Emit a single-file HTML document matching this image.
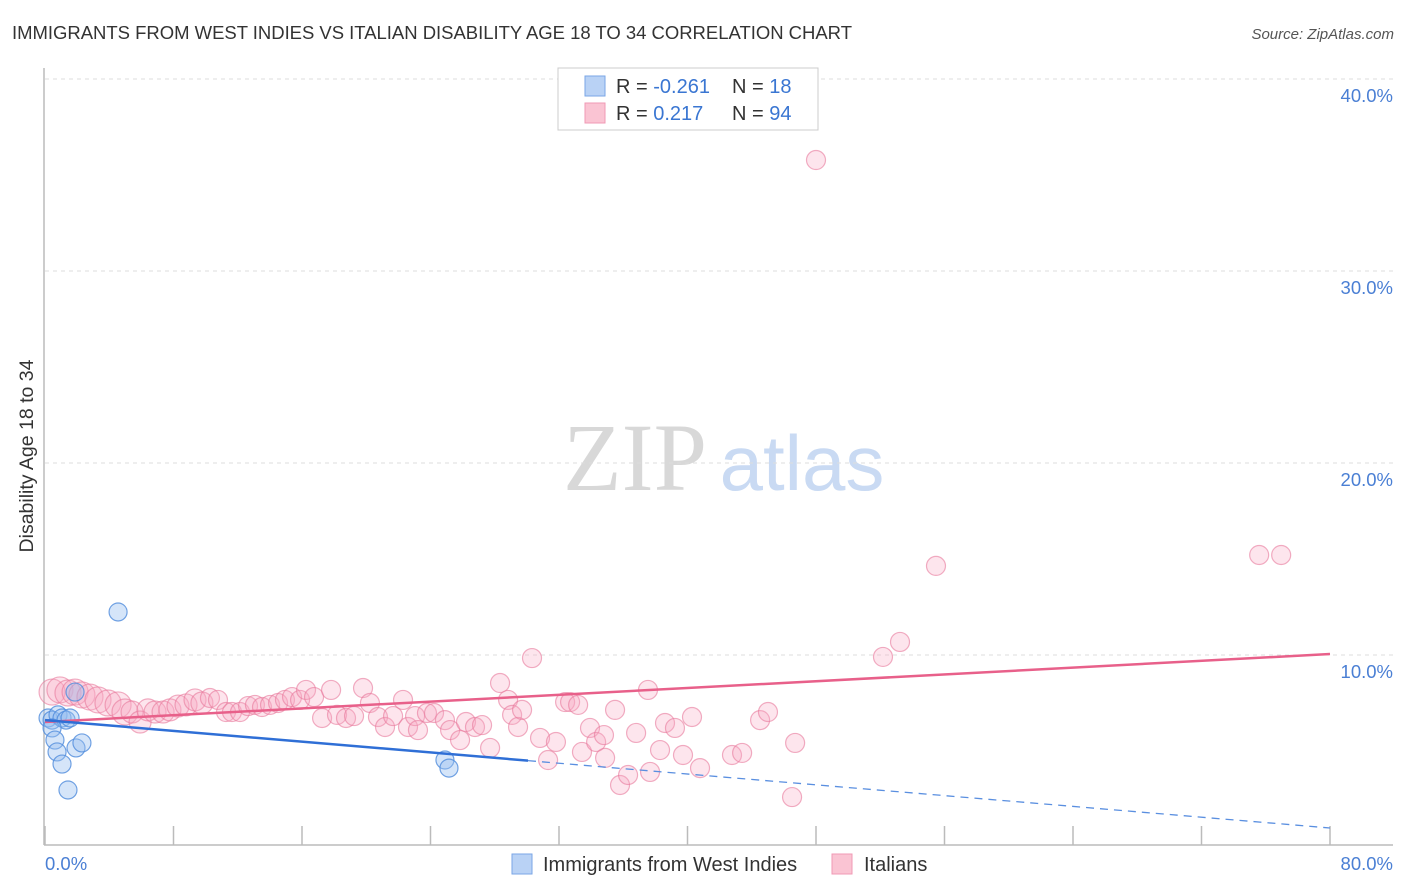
<!DOCTYPE html>
<html><head><meta charset="utf-8"><style>
body{margin:0;background:#fff;font-family:"Liberation Sans",sans-serif;}
svg{display:block}
</style></head><body>
<svg id="chart" width="1406" height="892">
<text x="12" y="39" font-size="18.5" fill="#333" textLength="840">IMMIGRANTS FROM WEST INDIES VS ITALIAN DISABILITY AGE 18 TO 34 CORRELATION CHART</text>
<text x="1394" y="39" font-size="15" fill="#555" font-style="italic" text-anchor="end">Source: ZipAtlas.com</text>
<g>
<text x="635" y="490" font-size="96" font-family="Liberation Serif,serif" fill="#d8d8d8" text-anchor="middle">ZIP</text>
<text x="802" y="490" font-size="78" fill="#c9daf3" text-anchor="middle">atlas</text>
</g>
<g id="grid"></g>
<g id="axes"></g>
<g id="marks"></g>
<text transform="translate(33,456) rotate(-90)" font-size="19.5" fill="#333" text-anchor="middle">Disability Age 18 to 34</text>
<g>
<rect x="558" y="68" width="260" height="62" fill="#fff" stroke="#ccc"/>
<rect x="585" y="76" width="20" height="20" fill="#b9d2f5" stroke="#7aa6e6"/>
<rect x="585" y="103" width="20" height="20" fill="#fac4d3" stroke="#f09ab5"/>
<text x="616" y="93" font-size="20" fill="#333">R = <tspan fill="#3a76d2">-0.261</tspan></text>
<text x="732" y="93" font-size="20" fill="#333">N = <tspan fill="#3a76d2"> 18</tspan></text>
<text x="616" y="120" font-size="20" fill="#333">R = <tspan fill="#3a76d2"> 0.217</tspan></text>
<text x="732" y="120" font-size="20" fill="#333">N = <tspan fill="#3a76d2">94</tspan></text>
</g>
<g>
<rect x="512" y="854" width="20" height="20" fill="#b9d2f5" stroke="#7aa6e6"/>
<text x="543" y="871" font-size="20" fill="#333">Immigrants from West Indies</text>
<rect x="832" y="854" width="20" height="20" fill="#fac4d3" stroke="#f09ab5"/>
<text x="864" y="871" font-size="20" fill="#333">Italians</text>
</g>
</svg>
<script>
const yTicks=[10,20,30,40];
const yTickLabels=["10.0%","20.0%","30.0%","40.0%"];
const xTickVals=[0,8,16,24,32,40,48,56,64,72,80];
const pinkX=[0.44,0.93,1.43,1.87,2.30,2.80,3.30,3.92,4.55,4.98,5.42,5.92,6.41,6.85,7.35,7.78,8.28,8.78,9.34,9.77,10.27,10.77,11.27,11.64,12.14,12.64,13.07,13.51,14.01,14.51,14.94,15.38,15.88,16.25,16.75,17.25,17.81,18.18,18.74,19.24,19.80,20.23,20.73,21.17,21.67,22.29,22.60,23.04,23.22,23.78,24.22,24.90,25.22,25.84,26.21,26.77,27.21,27.71,28.33,28.83,29.08,29.45,29.70,30.32,30.82,31.32,31.81,32.38,32.69,33.19,33.43,33.93,34.31,34.80,34.87,35.49,35.80,36.30,36.80,37.54,37.67,38.29,38.60,39.22,39.72,40.28,40.78,42.77,43.40,44.52,45.01,46.70,46.51,48.00,52.17,53.23,55.47,75.59,76.96];
const pinkY=[8.07,8.18,8.02,8.07,7.92,7.81,7.66,7.50,7.40,7.03,7.03,6.51,7.14,7.03,7.03,7.14,7.34,7.40,7.66,7.50,7.76,7.66,7.03,7.03,7.03,7.34,7.40,7.29,7.40,7.50,7.66,7.81,7.66,8.18,7.81,6.72,8.18,6.88,6.72,6.82,8.28,7.50,6.77,6.25,6.82,7.66,6.25,6.82,6.09,6.98,6.98,6.61,6.09,5.57,6.51,6.25,6.35,5.16,8.54,7.66,6.88,6.25,7.14,9.84,5.68,4.53,5.47,7.55,7.55,7.40,4.95,6.20,5.47,5.83,4.64,7.14,3.23,3.75,5.94,8.18,3.91,5.05,6.46,6.20,4.79,6.77,4.11,4.79,4.90,6.61,7.03,5.42,2.60,35.78,9.90,10.68,14.64,15.21,15.21];
const blueX=[0.19,0.44,0.81,1.06,1.31,1.56,1.87,0.44,0.62,0.75,1.06,1.43,1.93,2.30,4.55,24.90,25.15];
const blueY=[6.72,6.61,6.88,6.72,6.61,6.72,8.07,6.20,5.57,4.95,4.32,2.97,5.16,5.42,12.24,4.53,4.11];
const pinkTrend=[6.51,10.05];
const blueTrend=[6.61,0.99];
const blueSolidEnd=30.07;

const NS="http://www.w3.org/2000/svg";
const X0=45,X1=1330,Y0=847,PX=19.2;
function sx(v){return X0+(v/80)*(X1-X0);}
function sy(v){return Y0-v*PX;}
function mk(tag,attrs,parent){const e=document.createElementNS(NS,tag);for(const k in attrs)e.setAttribute(k,attrs[k]);document.getElementById(parent).appendChild(e);return e;}

yTicks.forEach((t,i)=>{
  const l=mk('line',{x1:45,x2:1393,y1:sy(t),y2:sy(t),stroke:'#ddd','stroke-dasharray':'4,4'},'grid');
  
  
  const tx=mk('text',{x:1393,y:sy(t)+23,'font-size':18.5,fill:'#4a7fd4','text-anchor':'end'},'grid');
  tx.textContent=yTickLabels[i];
  
  
});
let a=mk('line',{x1:44,x2:44,y1:68,y2:845,stroke:'#bbb','stroke-width':1.5},'axes');


a=mk('line',{x1:44,x2:1393,y1:845,y2:845,stroke:'#bbb','stroke-width':1.5},'axes');


xTickVals.forEach(v=>{
  const t=mk('line',{x1:sx(v),x2:sx(v),y1:826,y2:845,stroke:'#bbb','stroke-width':1.5},'axes');
  
  
});
let xl=mk('text',{x:45,y:870,'font-size':18.5,fill:'#4a7fd4'},'axes');xl.textContent='0.0%';


xl=mk('text',{x:1393,y:870,'font-size':18.5,fill:'#4a7fd4','text-anchor':'end'},'axes');xl.textContent='80.0%';



pinkX.forEach((x,i)=>{
  const r=x<5?13:(x<10?11:9.5);
  const c=mk('circle',{cx:sx(x),cy:sy(pinkY[i]),r:r,fill:'rgba(248,170,195,0.3)',stroke:'rgba(232,120,155,0.6)','stroke-width':1.2},'marks');
  
  
});
blueX.forEach((x,i)=>{
  const c=mk('circle',{cx:sx(x),cy:sy(blueY[i]),r:9,fill:'rgba(150,190,240,0.4)',stroke:'rgba(80,140,220,0.8)','stroke-width':1.2},'marks');
  
  
});
let ln=mk('line',{x1:sx(0),y1:sy(pinkTrend[0]),x2:sx(80),y2:sy(pinkTrend[1]),stroke:'#e8608a','stroke-width':2.5},'marks');


const by=v=>blueTrend[0]+(blueTrend[1]-blueTrend[0])*v/80;
ln=mk('line',{x1:sx(0),y1:sy(by(0)),x2:sx(blueSolidEnd),y2:sy(by(blueSolidEnd)),stroke:'#2f6fd6','stroke-width':2.5},'marks');


ln=mk('line',{x1:sx(blueSolidEnd),y1:sy(by(blueSolidEnd)),x2:sx(80),y2:sy(by(80)),stroke:'#5a8fe0','stroke-width':1.3,'stroke-dasharray':'8,6'},'marks');


</script>
</body></html>
